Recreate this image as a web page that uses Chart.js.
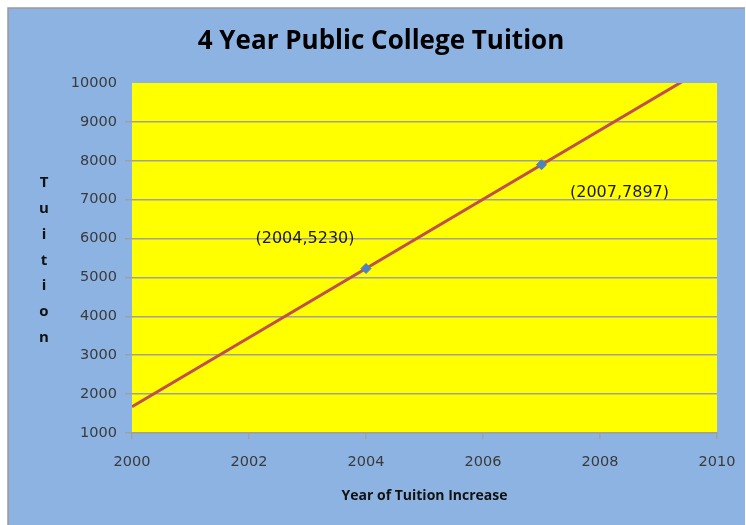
<!DOCTYPE html>
<html>
<head>
<meta charset="utf-8">
<script src="https://cdn.jsdelivr.net/npm/chart.js@4"></script>
<style>
  html, body { margin: 0; padding: 0; background: #ffffff; }
  #wrap { width: 746px; height: 525px; position: relative; }
</style>
</head>
<body>
<div id="wrap"><canvas id="c" width="746" height="525"></canvas></div>
<script>
// Observed tuition points
const years = [2004, 2007];
const tuition = [5230, 7897];
const pointLabels = ['(2004,5230)', '(2007,7897)'];

// Axis ranges and tick spacing
const yearTicks = [2000, 2002, 2004, 2006, 2008, 2010];
const tuitionTicks = [1000, 2000, 3000, 4000, 5000, 6000, 7000, 8000, 9000, 10000];

const titleText = '4 Year Public College Tuition';
const xTitleText = 'Year of Tuition Increase';
const yTitleLetters = ['T', 'u', 'i', 't', 'i', 'o', 'n'];

// Linear trend through the observed points, spanning the x range
const n = years.length;
const mx = years.reduce((a, b) => a + b, 0) / n;
const my = tuition.reduce((a, b) => a + b, 0) / n;
let sxy = 0, sxx = 0;
for (let i = 0; i < n; i++) { sxy += (years[i] - mx) * (tuition[i] - my); sxx += (years[i] - mx) ** 2; }
const slope = sxy / sxx;
const intercept = my - slope * mx;
const xMin = yearTicks[0], xMax = yearTicks[yearTicks.length - 1];
const trendPoints = [xMin, xMax].map(x => ({ x: x, y: intercept + slope * x }));

const GRID = '#a0a0a0';
const TICK_TXT = '#3a3a3a';

const backdrop = {
  id: 'backdrop',
  beforeDraw(chart) {
    const { ctx, chartArea: a } = chart;
    ctx.save();
    ctx.fillStyle = '#ffffff';
    ctx.fillRect(0, 0, chart.width, chart.height);
    ctx.fillStyle = '#8db3e2';
    ctx.fillRect(8, 8, 737, chart.height - 8);
    ctx.strokeStyle = '#9a9a9a';
    ctx.lineWidth = 1.5;
    ctx.beginPath();
    ctx.moveTo(8, chart.height); ctx.lineTo(8, 8); ctx.lineTo(745, 8);
    ctx.stroke();
    ctx.fillStyle = '#ffff00';
    ctx.fillRect(a.left, a.top, a.right - a.left, a.bottom - a.top);
    ctx.restore();
  }
};

const texts = {
  id: 'texts',
  afterDraw(chart) {
    const { ctx } = chart;
    const xs = chart.scales.x, ys = chart.scales.y;
    ctx.save();
    ctx.textAlign = 'center';
    ctx.textBaseline = 'middle';
    ctx.fillStyle = '#000000';
    ctx.font = 'bold 26px "Open Sans"';
    ctx.fillText(titleText, 381, 42);
    ctx.font = 'bold 14px "Open Sans"';
    ctx.fillStyle = '#111111';
    ctx.fillText(xTitleText, (chart.chartArea.left + chart.chartArea.right) / 2, 496);
    ctx.font = 'bold 15px "Open Sans"';
    yTitleLetters.forEach((ch, i) => ctx.fillText(ch, 44, 183 + i * 25.8));
    // value labels next to each observed point
    ctx.font = '16px "DejaVu Sans"';
    ctx.fillStyle = '#1a1a1a';
    const offs = [[-61, -30], [78, 28]];
    years.forEach((yr, i) => {
      const px = xs.getPixelForValue(yr), py = ys.getPixelForValue(tuition[i]);
      ctx.fillText(pointLabels[i], px + offs[i][0], py + offs[i][1]);
    });
    ctx.restore();
  }
};

new Chart(document.getElementById('c'), {
  type: 'scatter',
  data: {
    datasets: [
      {
        type: 'line',
        label: 'Trend',
        data: trendPoints,
        borderColor: '#c0504d',
        borderWidth: 3,
        pointRadius: 0,
        fill: false,
        clip: 0,
        order: 2
      },
      {
        label: 'Tuition',
        data: years.map((x, i) => ({ x: x, y: tuition[i] })),
        pointStyle: 'rectRot',
        pointRadius: 5,
        backgroundColor: '#4f81bd',
        borderColor: '#4f81bd',
        borderWidth: 1,
        order: 1
      }
    ]
  },
  options: {
    responsive: false,
    animation: false,
    layout: { padding: { top: 83, left: 0, right: 29, bottom: 0 } },
    plugins: {
      legend: { display: false },
      title: { display: false },
      tooltip: { enabled: false }
    },
    scales: {
      x: {
        type: 'linear',
        min: xMin,
        max: xMax,
        afterBuildTicks(scale) { scale.ticks = yearTicks.map(v => ({ value: v })); },
        afterFit(scale) {
          scale.height = 525 - 433;
          scale.paddingLeft = 0;
          scale.paddingRight = 0;
        },
        ticks: {
          color: TICK_TXT,
          font: { family: 'DejaVu Sans', size: 14.5 },
          padding: 15,
          maxRotation: 0,
          callback: v => String(v)
        },
        grid: { drawOnChartArea: false, color: GRID, tickLength: 6, lineWidth: 1.5 },
        border: { color: GRID, width: 1.5 }
      },
      y: {
        type: 'linear',
        min: tuitionTicks[0],
        max: tuitionTicks[tuitionTicks.length - 1],
        afterBuildTicks(scale) { scale.ticks = tuitionTicks.map(v => ({ value: v })); },
        afterFit(scale) {
          scale.width = 132;
          scale.paddingTop = 0;
          scale.paddingBottom = 0;
        },
        ticks: {
          color: TICK_TXT,
          font: { family: 'DejaVu Sans', size: 14.5 },
          padding: 8,
          callback: v => String(v)
        },
        grid: {
          color: ctx => (ctx.tick && ctx.tick.value === 10000) ? 'rgba(0,0,0,0)' : GRID,
          tickLength: 7,
          lineWidth: 1.5
        },
        border: { display: false }
      }
    }
  },
  plugins: [backdrop, texts]
});
</script>
</body>
</html>
